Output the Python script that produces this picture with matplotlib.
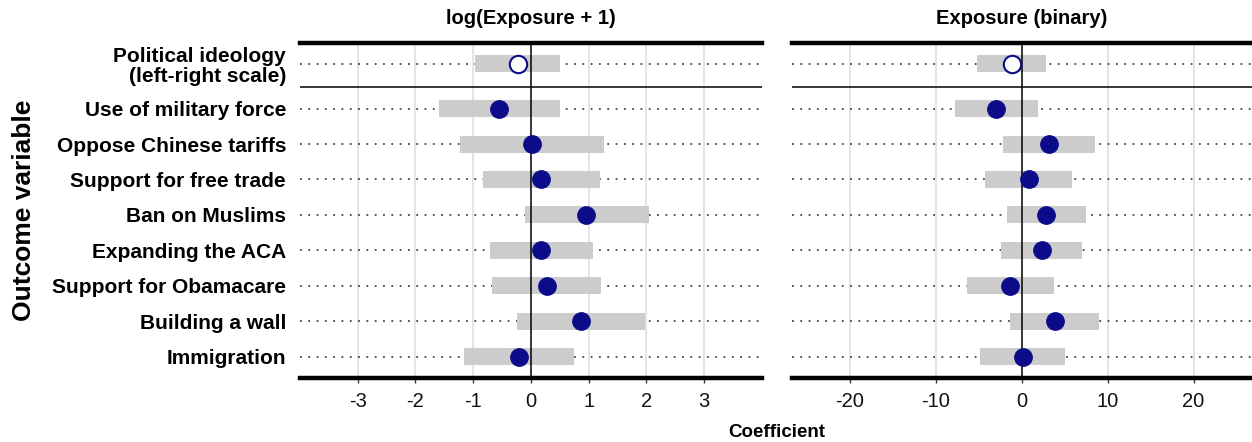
import matplotlib
matplotlib.use('Agg')
import matplotlib.pyplot as plt
import numpy as np

plt.rcParams['font.family'] = ['Liberation Sans', 'DejaVu Sans']

# outcomes, bottom to top
outcomes = ['Immigration', 'Building a wall', 'Support for Obamacare',
            'Expanding the ACA', 'Ban on Muslims', 'Support for free trade',
            'Oppose Chinese tariffs', 'Use of military force']
ideology_label = 'Political ideology\n(left-right scale)'

# log(Exposure + 1) panel
log_est = [-0.21, 0.86, 0.27, 0.18, 0.96, 0.18, 0.02, -0.55]
log_lo = [-1.16, -0.25, -0.67, -0.71, -0.10, -0.83, -1.23, -1.60]
log_hi = [0.75, 1.97, 1.21, 1.08, 2.04, 1.19, 1.27, 0.51]
log_ideo = [-0.23, -0.97, 0.50]  # est, lo, hi

# Exposure (binary) panel
bin_est = [0.12, 3.84, -1.35, 2.33, 2.87, 0.78, 3.14, -2.98]
bin_lo = [-4.84, -1.40, -6.43, -2.40, -1.74, -4.26, -2.24, -7.74]
bin_hi = [5.05, 9.03, 3.77, 7.06, 7.44, 5.86, 8.57, 1.83]
bin_ideo = [-1.20, -5.23, 2.83]

panels = [
    ('log(Exposure + 1)', log_est, log_lo, log_hi, log_ideo,
     [-3, -2, -1, 0, 1, 2, 3], (-4, 4)),
    ('Exposure (binary)', bin_est, bin_lo, bin_hi, bin_ideo,
     [-20, -10, 0, 10, 20], (-26.8, 26.8)),
]

navy = '#0c0c8a'
bar_col = '#cccccc'

fig = plt.figure(figsize=(12.52, 4.42), dpi=100)
rects = [[0.2396, 0.1441, 0.369, 0.7593], [0.6323, 0.1441, 0.3677, 0.7593]]

ys = np.arange(1, len(outcomes) + 1)
y_ideo = 9.265
y_sep = 8.62

for i, (title, est, lo, hi, ideo, ticks, xlim) in enumerate(panels):
    ax = fig.add_axes(rects[i])
    ax.set_xlim(*xlim)
    ax.set_ylim(0.39, 9.86)

    for t in ticks:
        if t != 0:
            ax.axvline(t, color='#dcdcdc', lw=1.1, zorder=0.5)

    allys = list(ys) + [y_ideo]
    for y in allys:
        ax.plot(xlim, [y, y], color='#444444', lw=1.3,
                linestyle=(0, (1, 3.6)), zorder=1)

    ax.barh(ys, np.array(hi) - np.array(lo), left=lo, height=0.48,
            color=bar_col, zorder=2)
    ax.barh([y_ideo], [ideo[2] - ideo[1]], left=[ideo[1]], height=0.48,
            color=bar_col, zorder=2)

    ax.axvline(0, color='black', lw=1.1, zorder=3)
    ax.axhline(y_sep, color='black', lw=1.1, zorder=3)

    ax.plot(est, ys, 'o', color=navy, markersize=12.5, zorder=4)
    ax.plot([ideo[0]], [y_ideo], 'o', markerfacecolor='white',
            markeredgecolor=navy, markeredgewidth=1.5, markersize=12.5,
            zorder=4)

    for s in ['left', 'right']:
        ax.spines[s].set_visible(False)
    for s in ['top', 'bottom']:
        ax.spines[s].set_linewidth(3.2)

    ax.set_xticks(ticks)
    ax.set_xticklabels([str(t) for t in ticks])
    ax.tick_params(axis='x', direction='out', length=3.5, width=1,
                   color='#333333', labelsize=14.5, pad=6, labelcolor='#111111')
    if i == 0:
        ax.set_yticks(allys)
        ax.set_yticklabels(outcomes + [ideology_label], fontsize=15,
                           fontweight='bold', linespacing=1.05)
        ax.tick_params(axis='y', length=0, pad=10)
    else:
        ax.set_yticks([])

    x0 = rects[i][0] + rects[i][2] / 2
    fig.text(x0, 0.959, title, ha='center', va='center', fontsize=14.5,
             fontweight='bold')

fig.text(0.019, 0.525, 'Outcome variable', rotation=90, ha='center',
         va='center', fontsize=19, fontweight='bold')
fig.text(0.6206, 0.0226, 'Coefficient', ha='center', va='center',
         fontsize=13.5, fontweight='bold')

fig.savefig('out.png', dpi=100)
